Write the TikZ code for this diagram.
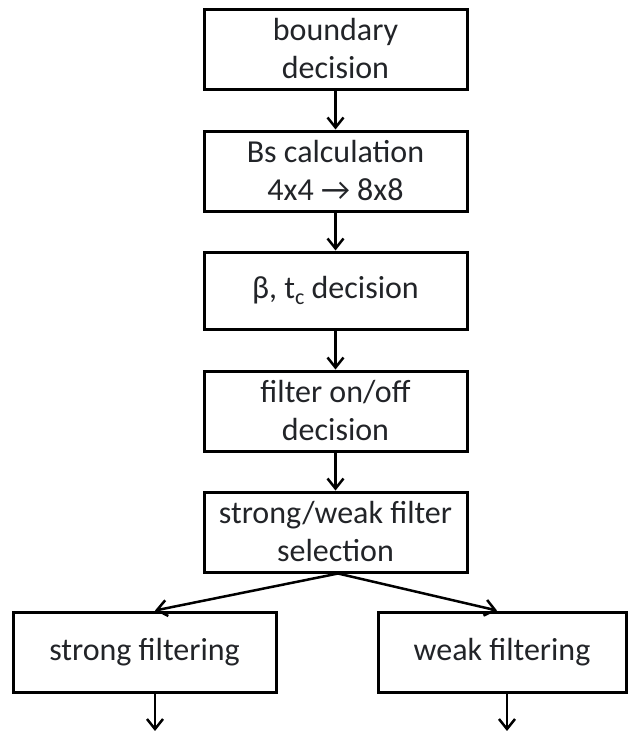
\documentclass[tikz,border=0pt]{standalone}
\usepackage{fontspec}
\setmainfont{Carlito}
\usetikzlibrary{arrows.meta}
\definecolor{txt}{HTML}{222428}
\begin{document}
\begin{tikzpicture}[x=1pt,y=-1pt,
  procbox/.style={draw=black,line width=3pt,fill=white,inner sep=0pt,align=center,
    text=txt,font=\fontsize{32}{38}\selectfont,minimum height=80pt},
  flow/.style={line width=2.5pt,-{Straight Barb[length=10pt,width=16pt]}}]
\useasboundingbox (0,0) rectangle (628,731);
\node[procbox,minimum width=263pt] (b1) at (335.5,49) {boundary\\decision};
\node[procbox,minimum width=263pt] (b2) at (335.5,171) {Bs calculation\\4x4 → 8x8};
\node[procbox,minimum width=263pt,minimum height=77pt] (b3) at (335.5,290.5) {β, t\raisebox{-6pt}{\fontsize{22}{22}\selectfont c} decision};
\node[procbox,minimum width=263pt] (b4) at (335.5,411) {filter on/off\\decision};
\node[procbox,minimum width=263pt] (b5) at (335.5,532) {strong/weak filter\\selection};
\node[procbox,minimum width=263pt] (sf) at (144.5,652) {strong filtering};
\node[procbox,minimum width=248pt] (wf) at (502,652) {weak filtering};
\coordinate (oL) at (155,731);
\coordinate (oR) at (507,731);
\draw[flow] (b1) -- (b2);
\draw[flow] (b2) -- (b3);
\draw[flow] (b3) -- (b4);
\draw[flow] (b4) -- (b5);
\draw[flow] ([xshift=2.5pt]b5.south) -- ([xshift=10.5pt]sf.north);
\draw[flow] ([xshift=2.5pt]b5.south) -- ([xshift=-5pt]wf.north);
\draw[flow] ([xshift=10.5pt]sf.south) -- (oL);
\draw[flow] ([xshift=5pt]wf.south) -- (oR);
\end{tikzpicture}
\end{document}
